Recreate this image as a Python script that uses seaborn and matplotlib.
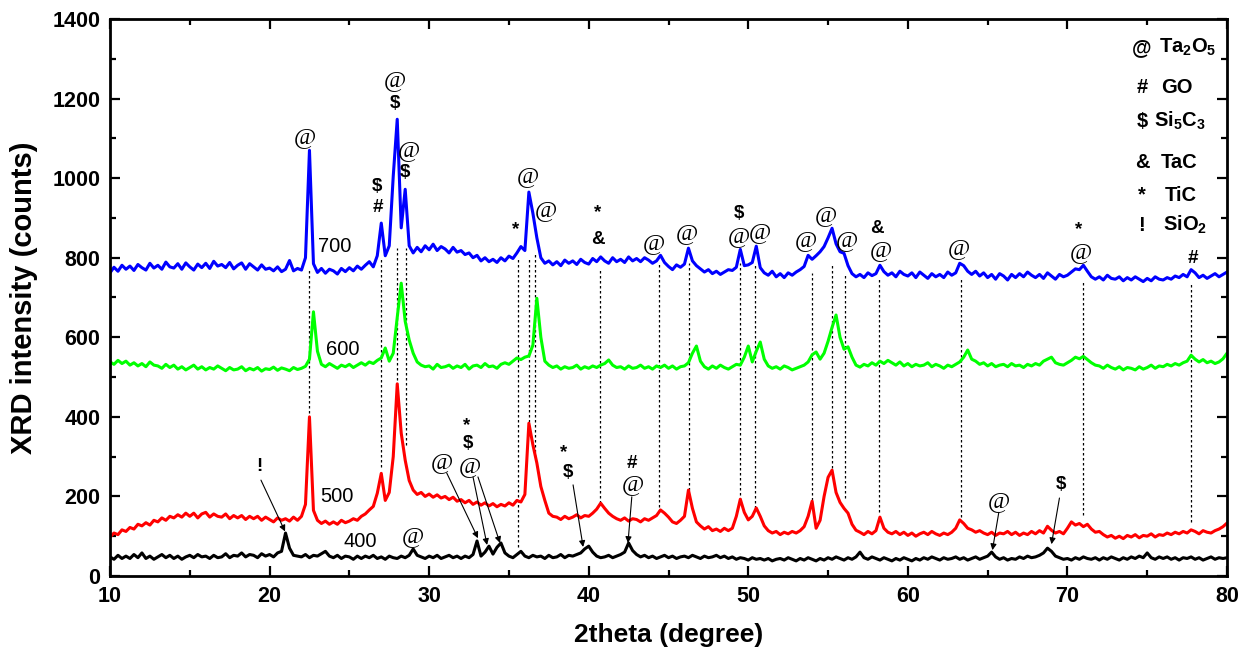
import numpy as np
import pandas as pd
import matplotlib
matplotlib.use("Agg")
import matplotlib.pyplot as plt
import seaborn as sns
from matplotlib.ticker import MultipleLocator

# ---------------- data ----------------
two_theta = np.round(np.arange(10.0, 80.0001, 0.25), 2)   # sampling grid

i700 = [
    762, 776, 766, 781,  771, 779, 768, 783,  775, 769, 786, 774,  781, 771, 789, 777,
    774, 785, 771, 787,  777, 769, 784, 775,  786, 773, 791, 779,  783, 775, 788, 772,
    781, 787, 771, 785,  777, 769, 782, 771,  774, 767, 777, 765,  771, 793, 767, 773,
    769, 800, 1070, 785, 763, 773, 761, 771,  767, 759, 773, 765,  775, 767, 779, 771,
    781, 790, 777, 805,  887, 805, 830, 1005, 1148, 875, 972, 830, 812, 826, 815, 830,
    820, 834, 818, 828,  822, 812, 826, 814,  818, 808, 812, 800,  806, 792, 800, 790,
    796, 788, 800, 792,  804, 798, 812, 828,  818, 965, 912, 850,  800, 786, 792, 782,
    790, 780, 794, 786,  792, 783, 796, 788,  784, 798, 790, 802,  792, 786, 800, 790,
    796, 788, 802, 792,  798, 790, 800, 794,  786, 792, 806, 788,  778, 770, 782, 776,
    784, 824, 792, 780,  772, 764, 770, 760,  766, 758, 764, 770,  768, 776, 821, 780,
    782, 788, 829, 775,  762, 756, 766, 752,  760, 750, 762, 756,  764, 770, 778, 806,
    796, 805, 815, 828,  850, 874, 835, 815,  811, 780, 760, 752,  758, 750, 762, 755,
    760, 781, 765, 756,  762, 752, 766, 758,  754, 762, 750, 764,  756, 748, 760, 752,
    758, 750, 764, 756,  762, 786, 780, 766,  758, 766, 754, 762,  750, 758, 746, 760,
    754, 744, 758, 750,  760, 752, 764, 756,  750, 758, 748, 762,  754, 746, 758, 752,
    756, 764, 772, 770,  781, 766, 752, 746,  752, 744, 756, 748,  746, 752, 742, 750,
    744, 752, 746, 740,  748, 742, 752, 746,  744, 750, 746, 754,  750, 758, 752, 770,
    762, 750, 756, 748,  754, 760, 752, 758,  764]

i600 = [
    538, 532, 542, 534,  540, 530, 536, 528,  534, 526, 538, 530,  528, 522, 532, 524,
    530, 520, 526, 518,  524, 530, 520, 526,  518, 524, 520, 528,  522, 516, 524, 518,
    520, 526, 516, 522,  518, 524, 515, 521,  519, 525, 517, 523,  520, 516, 524, 519,
    522, 527, 545, 664,  565, 532, 526, 534,  528, 522, 530, 526,  532, 524, 530, 536,
    530, 538, 534, 542,  548, 573, 540, 560,  650, 736, 640, 593,  560, 538, 530, 526,
    528, 520, 532, 524,  526, 530, 522, 528,  524, 532, 520, 528,  530, 524, 534, 526,
    528, 522, 532, 536,  532, 540, 548, 544,  550, 553, 580, 698,  600, 540, 530, 524,
    528, 520, 526, 522,  524, 530, 520, 526,  522, 528, 524, 530,  534, 543, 530, 524,
    526, 520, 528, 522,  524, 530, 522, 526,  520, 528, 524, 530,  522, 528, 520, 526,
    528, 536, 560, 578,  540, 526, 520, 528,  522, 530, 524, 520,  526, 532, 530, 550,
    578, 538, 565, 588,  545, 528, 522, 526,  520, 528, 524, 518,  522, 526, 530, 538,
    556, 563, 545, 560,  590, 625, 656, 600,  570, 576, 550, 530,  525, 532, 528, 536,
    530, 540, 534, 542,  536, 530, 538, 528,  534, 526, 532, 528,  530, 536, 526, 532,
    528, 522, 530, 526,  532, 538, 550, 568,  545, 540, 532, 536,  528, 534, 526, 530,
    532, 526, 534, 528,  530, 524, 532, 528,  534, 530, 540, 545,  550, 536, 532, 530,
    536, 542, 550, 546,  552, 544, 536, 530,  528, 522, 530, 524,  520, 526, 518, 524,
    522, 518, 526, 520,  524, 530, 522, 528,  526, 532, 528, 534,  530, 536, 540, 555,
    545, 538, 544, 536,  540, 534, 538, 546,  560]

i500 = [
    98, 108, 104, 116,   112, 122, 118, 130,  126, 134, 128, 140,  136, 146, 140, 150,
    146, 154, 148, 158,  150, 158, 146, 156,  160, 148, 156, 150,  148, 156, 144, 152,
    146, 152, 142, 150,  144, 150, 140, 148,  142, 136, 146, 140,  144, 138, 148, 140,
    150, 180, 400, 165,  140, 132, 138, 130,  136, 130, 140, 134,  138, 144, 140, 150,
    156, 166, 175, 208,  258, 190, 210, 300,  483, 359, 291, 240,  216, 205, 210, 200,
    206, 198, 204, 196,  200, 192, 198, 188,  192, 184, 190, 180,  186, 178, 184, 176,
    182, 174, 180, 176,  184, 178, 190, 186,  205, 384, 330, 284,  225, 190, 158, 150,
    148, 142, 150, 144,  148, 154, 146, 152,  150, 158, 168, 183,  170, 158, 150, 144,
    140, 146, 138, 144,  142, 136, 144, 140,  146, 152, 166, 158,  148, 136, 132, 140,
    150, 216, 170, 136,  126, 118, 124, 114,  118, 112, 120, 114,  120, 150, 193, 160,
    141, 150, 171, 150,  126, 114, 108, 112,  104, 110, 106, 112,  108, 114, 124, 150,
    188, 120, 140, 200,  248, 266, 210, 185,  170, 158, 130, 115,  110, 104, 112, 106,
    114, 148, 120, 110,  106, 112, 104, 110,  102, 108, 100, 106,  110, 104, 112, 106,
    102, 108, 104, 110,  120, 141, 132, 120,  116, 110, 114, 108,  104, 110, 102, 108,
    106, 112, 104, 110,  102, 108, 104, 112,  106, 114, 108, 125,  115, 108, 112, 106,
    120, 136, 128, 132,  124, 130, 118, 110,  112, 104, 98, 102,   95, 100, 94, 102,
    98, 104, 96, 102,    100, 106, 98, 104,   102, 108, 104, 110,  106, 112, 108, 116,
    112, 106, 114, 110,  108, 114, 118, 124,  133]

i400 = [
    48, 42, 52, 44,  50, 44, 54, 46,  58, 44, 50, 42,  48, 54, 46, 52,
    44, 50, 42, 48,  52, 46, 54, 48,  50, 44, 52, 46,  48, 56, 46, 52,
    50, 58, 48, 54,  52, 46, 56, 50,  54, 48, 58, 62,  108, 70, 52, 50,
    48, 54, 46, 52,  50, 56, 62, 50,  46, 52, 44, 50,  48, 42, 50, 44,
    50, 46, 52, 44,  48, 42, 50, 46,  44, 50, 46, 52,  68, 52, 48, 44,
    50, 46, 52, 44,  48, 52, 46, 50,  44, 50, 46, 54,  88, 50, 60, 75,
    55, 72, 83, 58,  50, 46, 54, 62,  50, 46, 52, 48,  50, 44, 52, 46,
    48, 54, 46, 52,  50, 54, 58, 68,  75, 60, 50, 46,  48, 52, 46, 50,
    54, 60, 83, 64,  54, 48, 52, 46,  50, 44, 48, 52,  46, 50, 44, 48,
    50, 46, 52, 48,  44, 50, 46, 48,  52, 46, 50, 44,  48, 42, 46, 44,
    40, 46, 42, 44,  40, 44, 38, 42,  44, 40, 46, 42,  38, 44, 40, 46,
    42, 38, 44, 40,  46, 42, 48, 44,  40, 46, 42, 48,  60, 46, 42, 48,
    44, 40, 46, 42,  38, 44, 40, 46,  42, 38, 44, 40,  46, 42, 48, 44,
    40, 46, 42, 44,  48, 42, 46, 40,  44, 48, 42, 46,  50, 60, 48, 42,
    46, 40, 44, 42,  48, 44, 50, 46,  48, 52, 58, 70,  62, 50, 46, 42,
    44, 40, 46, 42,  48, 44, 42, 46,  40, 46, 42, 48,  44, 40, 46, 42,
    48, 44, 50, 46,  58, 46, 42, 48,  44, 48, 42, 46,  40, 46, 44, 48,
    42, 46, 40, 44,  48, 42, 46, 44,  46]

samples = ["400", "500", "600", "700"]
sample_colors = ["#000000", "#ff0000", "#00ff00", "#0000ff"]
sample_label_x = [25.7, 24.2, 24.6, 24.1]
sample_label_y = [86, 199, 570, 829]

# peak markers (symbol, 2theta, intensity position)
peak_sym = ["@", "@", "$", "@", "$", "$", "#", "*", "@", "@", "*", "&", "@", "@",
            "$", "@", "@", "@", "@", "@", "&", "@", "@", "*", "@", "#",
            "!", "@", "@", "*", "$", "@", "*", "$", "#", "@", "@", "$"]
peak_x = [22.2, 27.86, 27.86, 28.74, 28.5, 26.7, 26.8, 35.44, 36.2, 37.3, 40.58, 40.6, 44.1, 46.15,
          49.4, 49.4, 50.73, 53.6, 54.87, 56.2, 58.07, 58.3, 63.2, 70.73, 70.85, 77.87,
          19.34, 29.0, 30.8, 32.37, 32.42, 32.56, 38.45, 38.7, 42.7, 42.77, 65.7, 69.6]
peak_y = [1103, 1246, 1188, 1070, 1015, 980, 925, 870, 1003, 918, 913, 846, 836, 861,
          910, 852, 864, 844, 907, 842, 874, 819, 824, 871, 812, 799,
          274, 98, 284, 379, 334, 274, 309, 259, 284, 229, 186, 231]

# guide lines (2theta, from, to)
guide_x = [22.45, 27.0, 27.98, 28.53, 35.57, 36.26, 36.65, 40.7, 44.4, 46.3, 49.48, 50.43,
           54.0, 55.25, 56.05, 58.2, 63.3, 70.95, 77.75]
guide_top = [769, 799, 824, 824, 799, 802, 812, 769, 786, 786, 786, 785, 761, 786, 761, 752,
             752, 744, 736]
guide_bottom = [410, 274, 480, 329, 73, 375, 300, 183, 161, 216, 191, 171, 191, 271, 196, 161,
                148, 153, 136]

# arrows (start -> end)
arrow_x0 = [19.46, 31.1, 32.75, 33.06, 39.02, 42.7, 65.7, 69.5]
arrow_y0 = [241, 259, 249, 249, 229, 199, 160, 196]
arrow_x1 = [20.97, 33.06, 33.63, 34.44, 39.65, 42.46, 65.3, 69.0]
arrow_y1 = [112, 95, 78, 83, 73, 83, 65, 80]

# phase key
key_sym = ["@", "#", "$", "&", "*", "!"]
key_name = [r"Ta$_\mathbf{2}$O$_\mathbf{5}$", "GO", r"Si$_\mathbf{5}$C$_\mathbf{3}$", "TaC", "TiC",
            r"SiO$_\mathbf{2}$"]
key_y = [1329, 1229, 1143, 1040, 957, 882]
key_name_x = [75.75, 75.85, 75.4, 75.85, 76.1, 76.0]

x_ticks = [10, 20, 30, 40, 50, 60, 70, 80]
y_ticks = [0, 200, 400, 600, 800, 1000, 1200, 1400]

# ---------------- plotting ----------------
sns.set_theme(style="ticks")
plt.rcParams["font.family"] = ["Liberation Sans", "DejaVu Sans"]
plt.rcParams["mathtext.fontset"] = "custom"
plt.rcParams["mathtext.rm"] = "Liberation Sans"
plt.rcParams["mathtext.bf"] = "Liberation Sans:bold"
for key in ["text.color", "axes.labelcolor", "xtick.color", "ytick.color", "axes.edgecolor"]:
    plt.rcParams[key] = "black"

series = {"400": i400, "500": i500, "600": i600, "700": i700}
frames = []
for name in samples:
    vals = series[name]
    assert len(vals) == len(two_theta), (name, len(vals))
    frames.append(pd.DataFrame({"two_theta": two_theta, "intensity": vals, "sample": name}))
df = pd.concat(frames, ignore_index=True)

fig = plt.figure(figsize=(12.45, 6.6), dpi=100)
ax = fig.add_axes([110 / 1245, 1 - 576 / 660, 1117 / 1245, 557 / 660])

# guide lines beneath the curves
ax.vlines(guide_x, guide_bottom, guide_top, colors="black", linestyles=(0, (2, 2)),
          linewidth=0.9, zorder=1)

sns.lineplot(data=df, x="two_theta", y="intensity", hue="sample", hue_order=samples,
             palette=dict(zip(samples, sample_colors)), estimator=None, sort=False,
             linewidth=2.2, legend=False, ax=ax, zorder=2)

for name, lx, ly in zip(samples, sample_label_x, sample_label_y):
    ax.text(lx, ly, name, ha="center", va="center", fontsize=14.5, color="black")

for s, px, py in zip(peak_sym, peak_x, peak_y):
    if s == "@":
        ax.text(px, py, s, ha="center", va="center", fontsize=17.5,
                family=["Liberation Serif", "DejaVu Serif"], color="black", zorder=4)
    else:
        ax.text(px, py, s, ha="center", va="center", fontsize=13.5, fontweight="bold",
                color="black", zorder=4)

for x0, y0, x1, y1 in zip(arrow_x0, arrow_y0, arrow_x1, arrow_y1):
    ax.annotate("", xy=(x1, y1), xytext=(x0, y0),
                arrowprops=dict(arrowstyle="-|>", color="black", lw=0.8,
                                mutation_scale=9, shrinkA=0, shrinkB=0), zorder=4)

for s, name, nx, ky in zip(key_sym, key_name, key_name_x, key_y):
    ax.text(74.67, ky, s, ha="center", va="center", fontsize=14.5, fontweight="bold")
    ax.text(nx, ky, name, ha="left", va="center", fontsize=14.5, fontweight="bold")

ax.set_xlim(10, 80)
ax.set_ylim(0, 1400)
ax.set_xticks(x_ticks)
ax.set_yticks(y_ticks)
ax.xaxis.set_minor_locator(MultipleLocator(5))
ax.yaxis.set_minor_locator(MultipleLocator(100))
ax.tick_params(which="both", direction="in", top=True, right=True, width=1.6, color="black")
ax.tick_params(which="major", length=7, labelsize=15.5, pad=7)
ax.tick_params(which="minor", length=4)
for lab in ax.get_xticklabels() + ax.get_yticklabels():
    lab.set_fontweight("bold")
for sp in ax.spines.values():
    sp.set_linewidth(2.0)
    sp.set_color("black")

ax.set_xlabel("2theta (degree)", fontsize=19, fontweight="bold", labelpad=12)
ax.set_ylabel("XRD intensity (counts)", fontsize=21, fontweight="bold", labelpad=10)
ax.grid(False)

fig.savefig("out.png", dpi=100)
